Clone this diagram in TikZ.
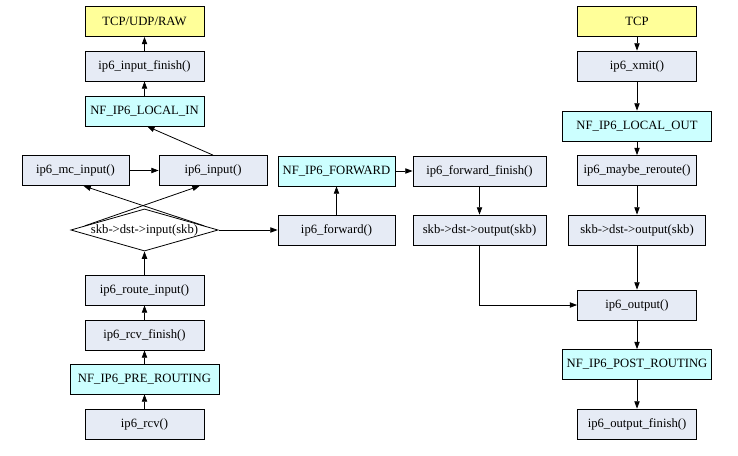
\documentclass[tikz,border=0pt]{standalone}
\usepackage{fontspec}
\setmainfont{Liberation Serif}
\usetikzlibrary{shapes.geometric,arrows.meta}
\definecolor{protofill}{HTML}{FFFF99}
\definecolor{funcfill}{HTML}{E6EBF5}
\definecolor{hookfill}{HTML}{CCFFFF}

\begin{document}
\begin{tikzpicture}[x=0.75pt, y=-0.75pt,
    font=\fontsize{9.5}{11}\selectfont,
    box/.style={draw, line width=0.6pt, inner sep=0pt, minimum height=22.5pt, minimum width=89.25pt},
    func/.style={box, fill=funcfill},
    hook/.style={box, fill=hookfill, minimum width=111.75pt},
    proto/.style={box, fill=protofill},
    decide/.style={draw, line width=0.6pt, shape=diamond, aspect=3.5, inner sep=0pt},
    flow/.style={line width=0.6pt, -{Triangle[length=5.5pt, width=4pt]}}]
  \useasboundingbox (0,0) rectangle (738,456);

  % receive path
  \node[proto] (tcpin) at (144.5, 21.5) {TCP/UDP/RAW};
  \node[func] (infin) at (144.5, 66) {ip6\_input\_finish()};
  \node[hook, minimum width=89.25pt] (localin) at (144.5, 111) {NF\_IP6\_LOCAL\_IN};
  \node[func, minimum width=80.25pt] (mcin) at (75.5, 170.5) {ip6\_mc\_input()};
  \node[func, minimum width=81pt] (ipin) at (213, 170.5) {ip6\_input()};
  \node[decide] (dia) at (144.5, 230) {skb->dst->input(skb)};
  \node[func] (route) at (144.5, 290) {ip6\_route\_input()};
  \node[func] (rcvfin) at (144.5, 335) {ip6\_rcv\_finish()};
  \node[hook] (prert) at (144.5, 379) {NF\_IP6\_PRE\_ROUTING};
  \node[func] (rcv) at (144.5, 424) {ip6\_rcv()};

  % forward path
  \node[hook, minimum width=87.75pt] (fwhook) at (336.5, 171) {NF\_IP6\_FORWARD};
  \node[func, minimum width=87.75pt] (fwd) at (336.5, 230) {ip6\_forward()};
  \node[func, minimum width=99.75pt] (fwfin) at (479.5, 171) {ip6\_forward\_finish()};
  \node[func, minimum width=99.75pt] (outmid) at (479.5, 230) {skb->dst->output(skb)};

  % send path
  \node[proto] (tcpout) at (637, 21.5) {TCP};
  \node[func] (xmit) at (637, 66) {ip6\_xmit()};
  \node[hook] (localout) at (637, 126) {NF\_IP6\_LOCAL\_OUT};
  \node[func] (reroute) at (637, 170.5) {ip6\_maybe\_reroute()};
  \node[func, minimum width=102.75pt] (outright) at (637, 230) {skb->dst->output(skb)};
  \node[func] (output) at (637, 305) {ip6\_output()};
  \node[hook] (postrt) at (637, 364.5) {NF\_IP6\_POST\_ROUTING};
  \node[func] (outfin) at (637, 424) {ip6\_output\_finish()};

  \draw[flow] (rcv) -- (prert);
  \draw[flow] (prert) -- (rcvfin);
  \draw[flow] (rcvfin) -- (route);
  \draw[flow] (route) -- (dia);
  \draw[flow] (dia.east) -- (fwd.west);
  \draw[flow] (dia.4) -- ([xshift=6pt]mcin.south);
  \draw[flow] (dia.176) -- ([xshift=-10pt]ipin.south);
  \draw[flow] (mcin) -- (ipin);
  \draw[flow] (ipin.north) -- ([xshift=2pt]localin.south);
  \draw[flow] (localin) -- (infin);
  \draw[flow] (infin) -- (tcpin);

  \draw[flow] (fwd) -- (fwhook);
  \draw[flow] (fwhook) -- (fwfin);
  \draw[flow] (fwfin) -- (outmid);
  \draw[flow] (outmid.south) |- (output.west);

  \draw[flow] (tcpout) -- (xmit);
  \draw[flow] (xmit) -- (localout);
  \draw[flow] (localout) -- (reroute);
  \draw[flow] (reroute) -- (outright);
  \draw[flow] (outright) -- (output);
  \draw[flow] (output) -- (postrt);
  \draw[flow] (postrt) -- (outfin);
\end{tikzpicture}
\end{document}
